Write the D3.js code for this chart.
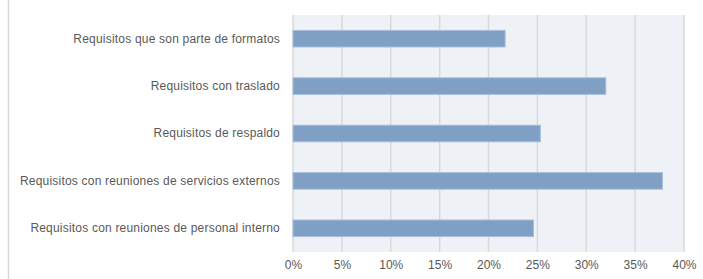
<!DOCTYPE html>
<html>
<head>
<meta charset="utf-8">
<script src="https://cdn.jsdelivr.net/npm/d3@7"></script>
<style>
  body { margin: 0; background: #fff; }
  svg { display: block; }
</style>
</head>
<body>
<div id="chart"></div>
<script>
// Datos
const categories = [
  "Requisitos que son parte de formatos",
  "Requisitos con traslado",
  "Requisitos de respaldo",
  "Requisitos con reuniones de servicios externos",
  "Requisitos con reuniones de personal interno"
]
const values = [0.217, 0.32, 0.253, 0.378, 0.246]
const xTicks = [0, 0.05, 0.10, 0.15, 0.20, 0.25, 0.30, 0.35, 0.40]

const width = 703, height = 279
const margin = { top: 15, right: 19, bottom: 27, left: 293 }
const innerWidth = width - margin.left - margin.right
const innerHeight = height - margin.top - margin.bottom
const font = "Liberation Sans, Arial, sans-serif"

const root = d3.select("#chart").append("svg")
  .attr("width", width)
  .attr("height", height)

// Borde izquierdo del área del gráfico
root.append("line")
  .attr("x1", 8.5).attr("x2", 8.5)
  .attr("y1", 0).attr("y2", height)
  .attr("stroke", "#d9d9d9")
  .attr("stroke-width", 1.5)

const svg = root.append("g")
  .attr("transform", `translate(${margin.left},${margin.top})`)

const x = d3.scaleLinear().domain([0, 0.40]).range([0, innerWidth])
const y = d3.scaleBand().domain(categories).range([0, innerHeight]).paddingInner(0.65).paddingOuter(0.325)

// Fondo
svg.append("rect")
  .attr("width", innerWidth)
  .attr("height", innerHeight)
  .attr("fill", "#eef1f6")

// Cuadrícula
svg.append("g")
  .selectAll("line")
  .data(xTicks)
  .join("line")
  .attr("x1", d => x(d)).attr("x2", d => x(d))
  .attr("y1", 0).attr("y2", innerHeight)
  .attr("stroke", "#d9d9d9")
  .attr("stroke-width", 1.5)

// Barras
svg.append("g")
  .selectAll("rect")
  .data(values)
  .join("rect")
  .attr("x", x(0))
  .attr("y", (d, i) => y(categories[i]))
  .attr("width", d => x(d))
  .attr("height", y.bandwidth())
  .attr("fill", "#7f9fc4")
  .attr("stroke", "#a8bedb")
  .attr("stroke-width", 1)

// Eje X
const xAxis = svg.append("g")
  .attr("transform", `translate(0,${innerHeight})`)
  .call(d3.axisBottom(x).tickValues(xTicks).tickFormat(d3.format(".0%")).tickSize(0).tickPadding(8))
  .attr("font-family", font)
  .attr("font-size", 12)
xAxis.select(".domain").remove()
xAxis.selectAll("text").attr("fill", "#595959")

// Eje Y
const yAxis = svg.append("g")
  .call(d3.axisLeft(y).tickSize(0).tickPadding(13))
  .attr("font-family", font)
  .attr("font-size", 12)
yAxis.select(".domain").remove()
yAxis.selectAll("text").attr("fill", "#595959").attr("letter-spacing", "0.2px")
</script>
</body>
</html>
